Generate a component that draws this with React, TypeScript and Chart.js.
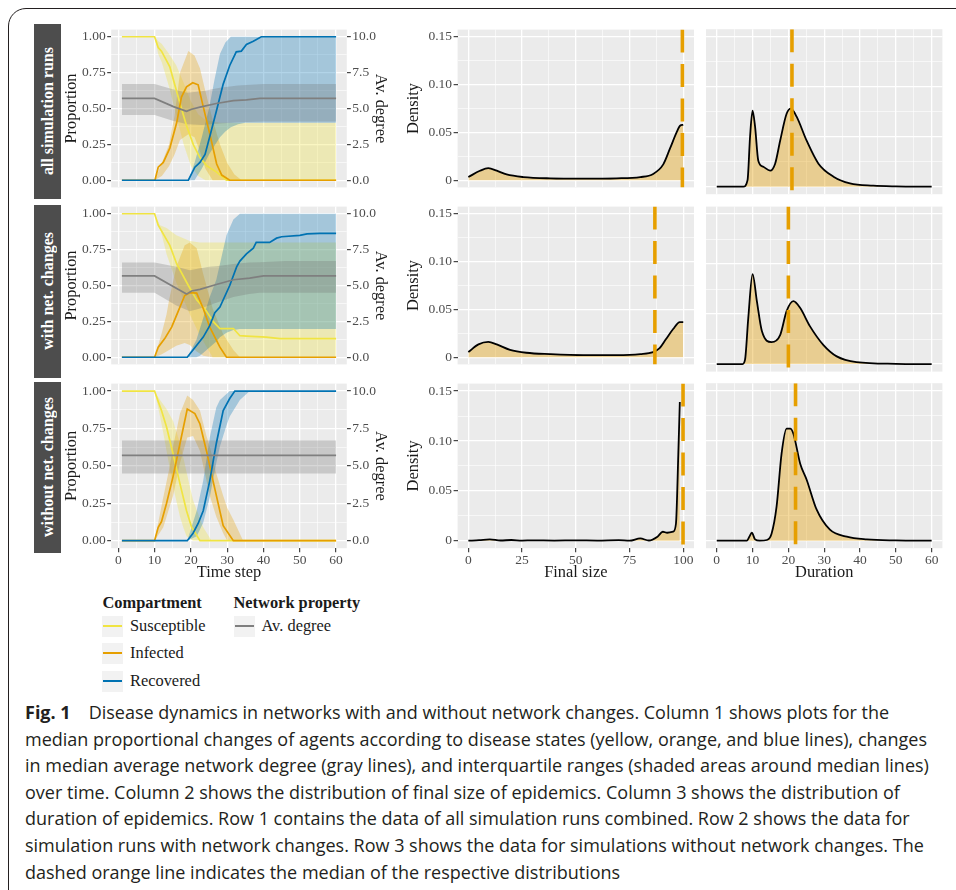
import React, { useEffect, useRef } from 'react';
import { Chart, registerables } from 'chart.js';

Chart.register(...registerables);

// ---------------- data ----------------
const ROW_LABELS = ['all simulation runs', 'with net. changes', 'without net. changes'];

const TIME_TICKS = [0, 10, 20, 30, 40, 50, 60];
const TIME_LABELS = ['0', '10', '20', '30', '40', '50', '60'];
const PROP_TICKS = [0, 0.25, 0.5, 0.75, 1];
const PROP_LABELS = ['0.00', '0.25', '0.50', '0.75', '1.00'];
const DEG_TICKS = [0, 2.5, 5, 7.5, 10];
const DEG_LABELS = ['0.0', '2.5', '5.0', '7.5', '10.0'];
const SIZE_TICKS = [0, 25, 50, 75, 100];
const SIZE_LABELS = ['0', '25', '50', '75', '100'];
const DUR_TICKS = [0, 10, 20, 30, 40, 50, 60];
const DUR_LABELS = ['0', '10', '20', '30', '40', '50', '60'];
const DENS_TICKS = [0, 0.05, 0.1, 0.15];
const DENS_LABELS = ['0', '0.05', '0.10', '0.15'];

const TIME_LIM = [-1.95, 62.95];
const PROP_LIM = [-0.05, 1.05];
const DEG_LIM = [-0.5, 10.5];
const SIZE_LIM = [-5, 105];
const DUR_LIM = [-3, 63];
const DENS_LIM = [-0.0075, 0.1575];

// Row 1: all simulation runs  ([time, median]) and bands ([time, lower, upper])
const S1_med = [[1, 1], [10, 1], [11, 0.925], [11.9, 0.9], [14.2, 0.79], [17, 0.535], [18.8, 0.38], [20.7, 0.247], [22.5, 0.158], [24.3, 0.102], [27, 0.058], [29.8, 0], [60, 0]];
const I1_med = [[1, 0], [10.1, 0], [11, 0.091], [12.4, 0.124], [14.2, 0.224], [16.1, 0.402], [17.4, 0.58], [18.8, 0.651], [20.5, 0.68], [22, 0.665], [23.4, 0.513], [25.3, 0.313], [27.1, 0.113], [28.5, 0.036], [30.7, 0], [60, 0]];
const R1_med = [[1, 0], [19.3, 0], [21.1, 0.091], [22.5, 0.124], [23.9, 0.18], [25.3, 0.313], [27.1, 0.49], [28.9, 0.67], [30.7, 0.8], [32.5, 0.895], [33.9, 0.9], [35.3, 0.947], [37.2, 0.969], [39.4, 1], [60, 1]];
const D1_med = [[1, 5.7], [10, 5.7], [15.2, 5.13], [18.8, 4.8], [20.2, 4.95], [22.5, 5.1], [27, 5.35], [31.7, 5.55], [35.3, 5.6], [39, 5.7], [60, 5.7]];
const S1_band = [[1, 1, 1], [10, 1, 1], [11, 0.88, 0.97], [12, 0.82, 0.95], [14, 0.65, 0.88], [16, 0.45, 0.8], [18, 0.25, 0.68], [20, 0.1, 0.55], [22, 0.03, 0.46], [24, 0, 0.42], [28, 0, 0.4], [60, 0, 0.4]];
const I1_band = [[1, 0, 0], [10, 0, 0], [12, 0.03, 0.12], [14, 0.1, 0.25], [15.5, 0.18, 0.45], [17, 0.28, 0.75], [19.3, 0.32, 0.9], [21, 0.3, 0.87], [22.5, 0.2, 0.78], [24, 0.08, 0.62], [26, 0, 0.42], [28, 0, 0.25], [30, 0, 0.12], [32, 0, 0.04], [34, 0, 0], [60, 0, 0]];
const R1_band = [[1, 0, 0], [19.3, 0, 0], [21, 0, 0.12], [23, 0.08, 0.3], [25, 0.18, 0.5], [26.5, 0.24, 0.7], [28, 0.3, 0.88], [29.5, 0.34, 0.96], [31, 0.37, 1], [33, 0.39, 1], [35, 0.4, 1], [60, 0.4, 1]];
const D1_band = [[1, 4.55, 6.7], [10, 4.55, 6.7], [15, 4.15, 6.35], [19, 3.9, 6.1], [23, 3.85, 6.2], [28, 3.95, 6.45], [33, 4.05, 6.6], [40, 4.1, 6.7], [60, 4.1, 6.7]];

// Row 2: with network changes
const S2_med = [[1, 1], [10, 1], [11, 0.92], [14.2, 0.78], [16.1, 0.65], [19.3, 0.5], [21.6, 0.4], [24.3, 0.32], [26.1, 0.25], [28, 0.2], [31.7, 0.2], [33.5, 0.15], [35.3, 0.147], [40.8, 0.14], [44.5, 0.13], [60, 0.13]];
const I2_med = [[1, 0], [10, 0], [11, 0.07], [12.8, 0.13], [14.7, 0.21], [16.5, 0.32], [18.3, 0.43], [19.7, 0.45], [21.6, 0.447], [23.4, 0.34], [25.2, 0.21], [28, 0.07], [29.8, 0], [60, 0]];
const R2_med = [[1, 0], [19, 0], [21.5, 0.08], [23.4, 0.14], [25.2, 0.22], [26.6, 0.31], [28, 0.35], [30.7, 0.5], [32.6, 0.63], [33.5, 0.67], [35.3, 0.72], [37.2, 0.76], [38, 0.8], [41.7, 0.8], [43.6, 0.83], [45, 0.84], [50, 0.85], [52, 0.86], [55.5, 0.863], [60, 0.863]];
const D2_med = [[1, 5.67], [10, 5.67], [15, 4.95], [18.8, 4.4], [20.2, 4.62], [22.5, 4.73], [27, 5.07], [31.7, 5.4], [36.2, 5.51], [40, 5.67], [60, 5.67]];
const S2_band = [[1, 1, 1], [10, 1, 1], [11.5, 0.9, 0.92], [13.3, 0.72, 0.9], [16, 0.52, 0.85], [19.7, 0.3, 0.81], [22.5, 0.15, 0.8], [26, 0, 0.8], [60, 0, 0.8]];
const I2_band = [[1, 0, 0], [10, 0, 0], [12, 0.02, 0.17], [13.3, 0.04, 0.3], [14, 0.05, 0.4], [16, 0.08, 0.63], [18.3, 0.1, 0.78], [19.7, 0.085, 0.8], [21.6, 0.04, 0.76], [23.4, 0.01, 0.58], [26, 0, 0.34], [28.9, 0, 0.16], [31.7, 0, 0.05], [33.5, 0, 0], [60, 0, 0]];
const R2_band = [[1, 0, 0], [19, 0, 0], [21.5, 0, 0.12], [22.5, 0.01, 0.2], [25.2, 0.07, 0.42], [27, 0.11, 0.54], [28, 0.14, 0.65], [29.8, 0.17, 0.85], [31.7, 0.19, 0.96], [33.5, 0.196, 1], [60, 0.196, 1]];
const D2_band = [[1, 4.5, 6.6], [10, 4.5, 6.6], [16, 3.6, 6.3], [19.7, 3.2, 6.07], [22.5, 3.4, 6.2], [25, 3.6, 6.3], [27, 3.8, 6.35], [31.7, 4.2, 6.5], [36, 4.4, 6.6], [39, 4.5, 6.62], [46, 4.5, 6.7], [60, 4.5, 6.7]];

// Row 3: without network changes
const S3_med = [[1, 1], [10, 1], [11, 0.93], [11.9, 0.87], [13.3, 0.76], [15.1, 0.58], [17, 0.38], [18.8, 0.2], [20.2, 0.09], [22.5, 0], [60, 0]];
const I3_med = [[1, 0], [10, 0], [11, 0.09], [11.9, 0.127], [13.3, 0.25], [15.1, 0.43], [17, 0.65], [19, 0.88], [21.1, 0.85], [22.5, 0.78], [24.3, 0.6], [26.1, 0.4], [28.9, 0.1], [31.7, 0], [60, 0]];
const R3_med = [[1, 0], [19, 0], [20.6, 0.05], [22, 0.115], [23.4, 0.2], [25.2, 0.4], [27, 0.65], [28.9, 0.87], [30.7, 0.95], [32.1, 1], [60, 1]];
const D3_med = [[1, 5.7], [60, 5.7]];
const S3_band = [[1, 1, 1], [10, 1, 1], [11.5, 0.83, 0.94], [12.4, 0.72, 0.91], [13.3, 0.6, 0.88], [15.1, 0.36, 0.8], [17, 0.16, 0.65], [17.9, 0.09, 0.56], [18.8, 0.03, 0.46], [20.6, 0, 0.27], [23.4, 0, 0.09], [25.7, 0, 0], [60, 0, 0]];
const I3_band = [[1, 0, 0], [10, 0, 0], [12.4, 0.09, 0.29], [14.2, 0.23, 0.5], [15.1, 0.3, 0.63], [17, 0.52, 0.85], [19, 0.69, 0.97], [20.6, 0.7, 0.94], [22.5, 0.6, 0.87], [24.3, 0.4, 0.7], [25.2, 0.3, 0.63], [27, 0.16, 0.45], [28.9, 0.05, 0.3], [30, 0, 0.22], [31.7, 0, 0.14], [34.4, 0, 0], [60, 0, 0]];
const R3_band = [[1, 0, 0], [19, 0, 0], [21.6, 0.03, 0.2], [23.4, 0.12, 0.4], [25.2, 0.29, 0.69], [27, 0.52, 0.89], [28, 0.63, 0.94], [29.8, 0.77, 0.98], [30.7, 0.83, 1], [33.5, 0.94, 1], [35.3, 0.98, 1], [36.2, 1, 1], [60, 1, 1]];
const D3_band = [[1, 4.5, 6.7], [60, 4.5, 6.7]];

// Density of final size ([final size, density])
const FS1 = [[0, 0.0033], [5.4, 0.0099], [9.3, 0.0126], [13.2, 0.01], [17.8, 0.006], [25.6, 0.0033], [38, 0.002], [53.5, 0.0017], [69, 0.002], [80, 0.0033], [86, 0.0066], [90.7, 0.0166], [93.8, 0.033], [96.9, 0.05], [98.5, 0.057], [100, 0.058]];
const FS2 = [[0, 0.0054], [4.7, 0.0134], [9.3, 0.016], [13.2, 0.0134], [19.4, 0.0077], [27, 0.0047], [38, 0.0033], [53.5, 0.0023], [69, 0.0023], [80, 0.0033], [86, 0.0054], [89, 0.0094], [92, 0.019], [95.3, 0.0295], [98.4, 0.0368], [100, 0.0368]];
const FS3 = [[0, 0], [5, 0.0005], [10, 0.0013], [15, 0.0002], [20, 0.0007], [25, 0.0001], [30, 0.0004], [40, 0.0001], [50, 0.0004], [60, 0.0001], [70, 0.0006], [75, 0], [80, 0.0023], [84, 0.0002], [88, 0.004], [90.5, 0.009], [92.5, 0.008], [95.3, 0.009], [96.6, 0.017], [97.7, 0.087], [98.4, 0.139]];

// Density of duration ([duration, density])
const DU1 = [[0, 0], [7.4, 0], [8.6, 0.0066], [9.3, 0.05], [10, 0.076], [10.7, 0.06], [11.6, 0.026], [13, 0.02], [14.9, 0.016], [16.3, 0.023], [17.7, 0.046], [19.5, 0.073], [20.7, 0.078], [22.3, 0.07], [25.1, 0.046], [28.4, 0.023], [32.6, 0.01], [37.2, 0.0033], [43.7, 0.001], [50, 0.0003], [60, 0]];
const DU2 = [[0, 0], [7.2, 0], [7.9, 0.0044], [8.8, 0.046], [10, 0.09], [11.2, 0.063], [12.6, 0.033], [15.3, 0.022], [17.7, 0.029], [19.5, 0.053], [21.4, 0.063], [23.3, 0.056], [26, 0.038], [29.8, 0.019], [33.5, 0.0077], [39, 0.002], [50, 0.0003], [60, 0]];
const DU3 = [[0, 0], [8.4, 0], [9.1, 0.004], [9.8, 0.008], [10.7, 0.0013], [12, 0], [14, 0.0007], [15.3, 0.007], [16.7, 0.034], [18.1, 0.087], [19.5, 0.112], [20.5, 0.112], [21.4, 0.107], [23.3, 0.077], [25.1, 0.061], [27.9, 0.031], [31.6, 0.011], [36.3, 0.004], [41.9, 0.0013], [50, 0.0003], [60, 0]];

const FS_MEDIANS = [99.6, 86.8, 99.9];
const DUR_MEDIANS = [21, 20, 22];

const LEGEND_COMPARTMENTS = ['Susceptible', 'Infected', 'Recovered'];
const LEGEND_NETWORK = ['Av. degree'];

const CAPTION_LINES = [
  'Disease dynamics in networks with and without network changes. Column 1 shows plots for the',
  'median proportional changes of agents according to disease states (yellow, orange, and blue lines), changes',
  'in median average network degree (gray lines), and interquartile ranges (shaded areas around median lines)',
  'over time. Column 2 shows the distribution of final size of epidemics. Column 3 shows the distribution of',
  'duration of epidemics. Row 1 contains the data of all simulation runs combined. Row 2 shows the data for',
  'simulation runs with network changes. Row 3 shows the data for simulations without network changes. The',
  'dashed orange line indicates the median of the respective distributions',
];

const TIME_ROWS = [
  { S: S1_med, I: I1_med, R: R1_med, D: D1_med, Sb: S1_band, Ib: I1_band, Rb: R1_band, Db: D1_band },
  { S: S2_med, I: I2_med, R: R2_med, D: D2_med, Sb: S2_band, Ib: I2_band, Rb: R2_band, Db: D2_band },
  { S: S3_med, I: I3_med, R: R3_med, D: D3_med, Sb: S3_band, Ib: I3_band, Rb: R3_band, Db: D3_band },
];
const SIZE_ROWS = [FS1, FS2, FS3];
const DUR_ROWS = [DU1, DU2, DU3];

// ---------------- styles / layout ----------------
const SERIF = '"Liberation Serif", "Times New Roman", serif';
const SANS = '"Open Sans", Lato, sans-serif';
const YELLOW = '#F0E442';
const ORANGE = '#E69F00';
const BLUE = '#0072B2';
const GRAY = '#7F7F7F';
const BAND = {
  S: 'rgba(240,228,66,0.32)',
  I: 'rgba(230,159,0,0.3)',
  R: 'rgba(0,114,178,0.3)',
  D: 'rgba(110,110,110,0.28)',
};

const COLS = [
  { canvasLeft: 62, left: 111.2, right: 346.8, canvasRight: 390 },
  { canvasLeft: 404, left: 457.6, right: 694, canvasRight: 697 },
  { canvasLeft: 704, left: 706, right: 942.4, canvasRight: 946 },
];
const ROW_TOPS = [29.2, 206.6, 383.2];
const PANEL_H = 165;
const BOTTOM_CANVAS = 583;
const STRIPS = [[24, 199], [204.5, 378], [382, 553]];

type TickDef = { value: number; lbl: string; mj: boolean };

function tickDefs(majors: number[], labels: string[], withMinor: boolean): TickDef[] {
  const out: TickDef[] = [];
  majors.forEach((v, i) => {
    out.push({ value: v, lbl: labels[i], mj: true });
    if (withMinor && i < majors.length - 1) out.push({ value: (v + majors[i + 1]) / 2, lbl: '', mj: false });
  });
  return out;
}

interface AxisOpt {
  position: 'left' | 'right' | 'bottom';
  lim: number[];
  ticks: TickDef[];
  showLabels: boolean;
  showMarks: boolean;
  showGrid: boolean;
  size: number;
  title?: string;
  labelPad?: number;
}

function makeAxis(o: AxisOpt) {
  const horizontal = o.position === 'bottom';
  return {
    type: 'linear',
    position: o.position,
    min: o.lim[0],
    max: o.lim[1],
    display: true,
    offset: false,
    afterBuildTicks: (s: any) => {
      s.ticks = o.ticks.map((t) => ({ value: t.value, lbl: t.lbl, mj: t.mj }));
    },
    afterFit: (s: any) => {
      if (horizontal) s.height = o.size;
      else s.width = o.size;
    },
    ticks: {
      display: o.showLabels,
      autoSkip: false,
      maxRotation: 0,
      minRotation: 0,
      padding: o.labelPad ?? 1.5,
      color: '#4D4D4D',
      font: { family: SERIF, size: 13.5 },
      callback: (_v: any, i: number, arr: any[]) => (arr[i] ? arr[i].lbl : ''),
    },
    grid: {
      display: true,
      drawOnChartArea: o.showGrid,
      drawTicks: o.showMarks,
      tickLength: 4,
      color: '#FFFFFF',
      lineWidth: (c: any) => (c.tick && c.tick.mj ? 1.3 : 0.6),
      tickColor: (c: any) => (c.tick && c.tick.mj ? '#333333' : 'rgba(0,0,0,0)'),
      tickWidth: 1.1,
    },
    border: { display: false },
    title: o.title
      ? { display: true, text: o.title, color: '#1A1A1A', font: { family: SERIF, size: 16.4, lineHeight: 1.2 }, padding: 0 }
      : { display: false },
  };
}

const panelBg = {
  id: 'panelBg',
  beforeDraw(chart: any) {
    const { ctx, chartArea: a } = chart;
    ctx.save();
    ctx.fillStyle = '#EBEBEB';
    ctx.fillRect(a.left, a.top, a.right - a.left, a.bottom - a.top);
    ctx.restore();
  },
};

function geometry(c: number, r: number) {
  const col = COLS[c];
  const top = ROW_TOPS[r];
  const canvasTop = Math.floor(top) - 9;
  const bottom = top + PANEL_H;
  const canvasBottom = r < 2 ? Math.ceil(bottom) + 2 : BOTTOM_CANVAS;
  return {
    x: col.canvasLeft,
    y: canvasTop,
    w: col.canvasRight - col.canvasLeft,
    h: canvasBottom - canvasTop,
    padTop: top - canvasTop,
    padBottom: r < 2 ? canvasBottom - bottom : 0,
    xSize: r < 2 ? 0 : canvasBottom - bottom,
    leftSize: col.left - col.canvasLeft,
    rightSize: col.canvasRight - col.right,
  };
}

const toXY = (arr: number[][], k = 1) => arr.map((p) => ({ x: p[0], y: p[k] }));

function baseOptions(g: any, padLeft: number, padRight: number, scales: any) {
  return {
    responsive: false,
    animation: false,
    devicePixelRatio: 1,
    events: [],
    layout: { padding: { top: g.padTop, bottom: g.padBottom, left: padLeft, right: padRight } },
    plugins: { legend: { display: false }, tooltip: { enabled: false } },
    scales,
  };
}

function timeConfig(r: number) {
  const g = geometry(0, r);
  const d = TIME_ROWS[r];
  const line = (data: number[][], color: string, axis: string, order: number) => ({
    data: toXY(data),
    borderColor: color,
    borderWidth: 1.7,
    pointRadius: 0,
    tension: 0,
    fill: false,
    yAxisID: axis,
    order,
  });
  const band = (data: number[][], color: string, axis: string, order: number) => [
    { data: toXY(data, 1), borderWidth: 0, borderColor: 'rgba(0,0,0,0)', pointRadius: 0, fill: false, yAxisID: axis, order },
    { data: toXY(data, 2), borderWidth: 0, borderColor: 'rgba(0,0,0,0)', pointRadius: 0, fill: '-1', backgroundColor: color, yAxisID: axis, order },
  ];
  const datasets = [
    ...band(d.Sb, BAND.S, 'y', 14),
    ...band(d.Ib, BAND.I, 'y', 13),
    ...band(d.Rb, BAND.R, 'y', 12),
    ...band(d.Db, BAND.D, 'y2', 11),
    line(d.S, YELLOW, 'y', 4),
    line(d.I, ORANGE, 'y', 3),
    line(d.R, BLUE, 'y', 2),
    line(d.D, GRAY, 'y2', 1),
  ];
  const last = r === 2;
  const scales = {
    x: makeAxis({ position: 'bottom', lim: TIME_LIM, ticks: tickDefs(TIME_TICKS, TIME_LABELS, true), showLabels: last, showMarks: last, showGrid: true, size: g.xSize, title: last ? 'Time step' : undefined, labelPad: 0 }),
    y: makeAxis({ position: 'left', lim: PROP_LIM, ticks: tickDefs(PROP_TICKS, PROP_LABELS, true), showLabels: true, showMarks: true, showGrid: true, size: g.leftSize, title: 'Proportion' }),
    y2: makeAxis({ position: 'right', lim: DEG_LIM, ticks: tickDefs(DEG_TICKS, DEG_LABELS, false), showLabels: true, showMarks: true, showGrid: false, size: g.rightSize, title: 'Av. degree' }),
  };
  return { g, config: { type: 'line', data: { datasets }, options: baseOptions(g, 0, 0, scales), plugins: [panelBg] } };
}

function densityConfig(c: number, r: number) {
  const g = geometry(c, r);
  const isSize = c === 1;
  const dens = isSize ? SIZE_ROWS[r] : DUR_ROWS[r];
  const med = isSize ? FS_MEDIANS[r] : DUR_MEDIANS[r];
  const last = r === 2;
  const datasets = [
    {
      data: [{ x: med, y: DENS_LIM[1] }, { x: med, y: DENS_LIM[0] }],
      borderColor: ORANGE,
      borderWidth: 3.6,
      borderDash: [23, 11.5],
      borderCapStyle: 'butt',
      pointRadius: 0,
      fill: false,
      order: 0,
    },
    {
      data: toXY(dens),
      borderColor: '#000000',
      borderWidth: 1.8,
      backgroundColor: 'rgba(230,159,0,0.38)',
      fill: 'origin',
      pointRadius: 0,
      cubicInterpolationMode: 'monotone',
      order: 1,
    },
  ];
  const xTicks = isSize ? tickDefs(SIZE_TICKS, SIZE_LABELS, true) : tickDefs(DUR_TICKS, DUR_LABELS, true);
  const scales = {
    x: makeAxis({ position: 'bottom', lim: isSize ? SIZE_LIM : DUR_LIM, ticks: xTicks, showLabels: last, showMarks: last, showGrid: true, size: g.xSize, title: last ? (isSize ? 'Final size' : 'Duration') : undefined, labelPad: 0 }),
    y: makeAxis({ position: 'left', lim: DENS_LIM, ticks: tickDefs(DENS_TICKS, DENS_LABELS, true), showLabels: isSize, showMarks: isSize, showGrid: true, size: isSize ? g.leftSize : 0, title: isSize ? 'Density' : undefined }),
  };
  const padLeft = isSize ? 0 : g.leftSize;
  return { g, config: { type: 'line', data: { datasets }, options: baseOptions(g, padLeft, g.rightSize, scales), plugins: [panelBg] } };
}

function ChartCanvas({ make }: { make: () => { g: any; config: any } }) {
  const ref = useRef<HTMLCanvasElement | null>(null);
  const built = make();
  const g = built.g;
  useEffect(() => {
    if (!ref.current) return;
    const chart = new Chart(ref.current, make().config as any);
    return () => chart.destroy();
  }, []);
  return (
    <canvas
      ref={ref}
      width={g.w}
      height={g.h}
      style={{ position: 'absolute', left: g.x, top: g.y, width: g.w, height: g.h }}
    />
  );
}

function LegendKey({ left, top, color }: { left: number; top: number; color: string }) {
  return (
    <div style={{ position: 'absolute', left, top, width: 21, height: 21, background: '#F2F2F2' }}>
      <div style={{ position: 'absolute', left: 1, width: 19, top: 9, height: 2, background: color }} />
    </div>
  );
}

export default function App() {
  const compColors = [YELLOW, ORANGE, BLUE];
  const keyTops = [616, 643, 671];
  return (
    <div style={{ position: 'absolute', left: 0, top: 0, width: 956, height: 890, overflow: 'hidden', background: '#FFFFFF' }}>
      <div
        style={{
          position: 'absolute',
          left: 8,
          top: 8,
          width: 1100,
          height: 1000,
          border: '1.3px solid #231F20',
          borderTopLeftRadius: 18,
          boxSizing: 'border-box',
        }}
      />
      {STRIPS.map(([y0, y1], i) => (
        <div
          key={'s' + i}
          style={{
            position: 'absolute',
            left: 34,
            top: y0,
            width: 27,
            height: y1 - y0,
            background: '#4D4D4D',
            display: 'flex',
            alignItems: 'center',
            justifyContent: 'center',
          }}
        >
          <span
            style={{
              writingMode: 'vertical-rl',
              transform: 'rotate(180deg)',
              color: '#FFFFFF',
              fontFamily: SERIF,
              fontWeight: 'bold',
              fontSize: 16,
              whiteSpace: 'nowrap',
              lineHeight: '20px',
            }}
          >
            {ROW_LABELS[i]}
          </span>
        </div>
      ))}
      {[0, 1, 2].map((r) => (
        <React.Fragment key={'r' + r}>
          <ChartCanvas make={() => timeConfig(r)} />
          <ChartCanvas make={() => densityConfig(1, r)} />
          <ChartCanvas make={() => densityConfig(2, r)} />
        </React.Fragment>
      ))}
      <div style={{ position: 'absolute', left: 102.5, top: 592, fontFamily: SERIF, fontWeight: 'bold', fontSize: 16.4, lineHeight: '22px', color: '#1A1A1A', whiteSpace: 'nowrap' }}>
        Compartment
      </div>
      {LEGEND_COMPARTMENTS.map((lab, i) => (
        <React.Fragment key={'lc' + i}>
          <LegendKey left={102} top={keyTops[i]} color={compColors[i]} />
          <div style={{ position: 'absolute', left: 130, top: keyTops[i] - 1, fontFamily: SERIF, fontSize: 16.4, lineHeight: '22px', color: '#1A1A1A', whiteSpace: 'nowrap' }}>
            {lab}
          </div>
        </React.Fragment>
      ))}
      <div style={{ position: 'absolute', left: 233.5, top: 592, fontFamily: SERIF, fontWeight: 'bold', fontSize: 16.4, lineHeight: '22px', color: '#1A1A1A', whiteSpace: 'nowrap' }}>
        Network property
      </div>
      {LEGEND_NETWORK.map((lab, i) => (
        <React.Fragment key={'ln' + i}>
          <LegendKey left={234} top={keyTops[i]} color={GRAY} />
          <div style={{ position: 'absolute', left: 261.5, top: keyTops[i] - 1, fontFamily: SERIF, fontSize: 16.4, lineHeight: '22px', color: '#1A1A1A', whiteSpace: 'nowrap' }}>
            {lab}
          </div>
        </React.Fragment>
      ))}
      <div style={{ position: 'absolute', left: 25, top: 699, fontFamily: SANS, fontSize: 18, lineHeight: '26.6px', color: '#231F20' }}>
        {CAPTION_LINES.map((ln, i) => (
          <div key={'c' + i} style={{ whiteSpace: 'nowrap' }}>
            {i === 0 ? <span style={{ fontWeight: 'bold', marginRight: 18 }}>Fig. 1</span> : null}
            {ln}
          </div>
        ))}
      </div>
    </div>
  );
}
